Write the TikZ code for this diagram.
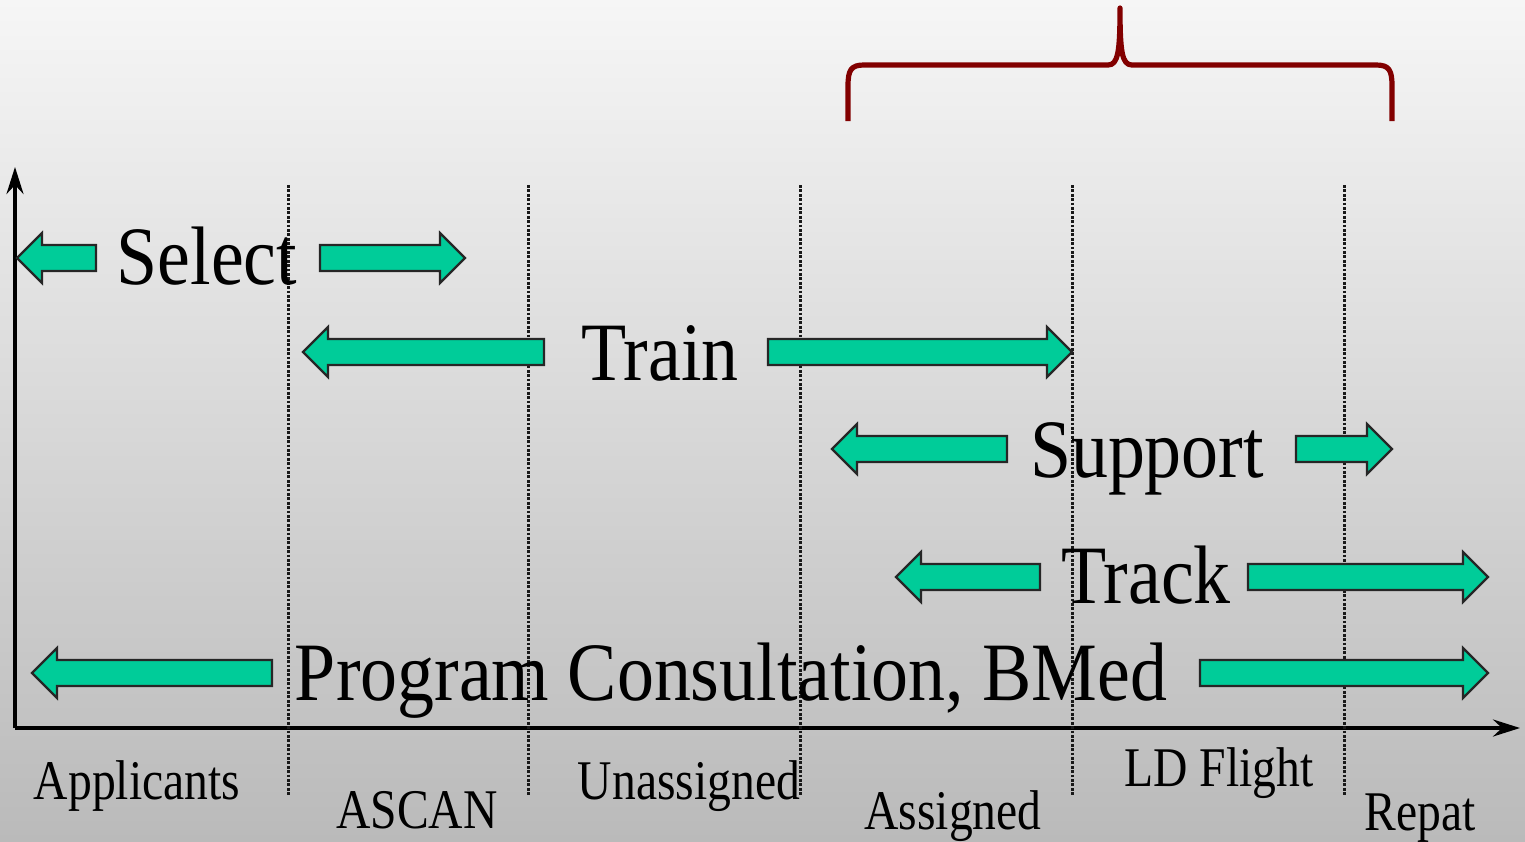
\documentclass[tikz,border=0pt]{standalone}
\usepackage{fontspec}
\usepackage{graphicx}
\setmainfont{Liberation Serif}
\usetikzlibrary{arrows.meta}
\definecolor{blockgreen}{RGB}{0,204,153}
\definecolor{bracered}{RGB}{130,0,0}
\definecolor{bgtop}{RGB}{246,246,246}
\definecolor{bgbot}{RGB}{186,186,186}
\newcommand\lblock[3]{% tip x, end x, center y
  \draw[blockarrow] (#1,#3) -- (#1+25,#3-25) -- (#1+25,#3-13) -- (#2,#3-13)
    -- (#2,#3+13) -- (#1+25,#3+13) -- (#1+25,#3+25) -- cycle;}
\newcommand\rblock[3]{% start x, tip x, center y
  \draw[blockarrow] (#1,#3-13) -- (#2-25,#3-13) -- (#2-25,#3-25) -- (#2,#3)
    -- (#2-25,#3+25) -- (#2-25,#3+13) -- (#1,#3+13) -- cycle;}
\newcommand\mainlbl[1]{\scalebox{0.89}[1]{#1}}
\newcommand\axlbl[1]{\scalebox{0.85}[1]{#1}}
\begin{document}
\begin{tikzpicture}[x=0.5pt,y=-0.5pt,
  blockarrow/.style={fill=blockgreen,draw=black!85,line width=1.1pt,line join=miter},
  phase/.style={line width=1.5pt,dash pattern=on 1.4pt off 0.8pt,black!90},
  axis/.style={line width=1.7pt,-{Stealth[length=13.5pt,width=8.5pt,inset=4.5pt]}},
  maintext/.style={anchor=base,inner sep=0pt,font=\fontsize{41.5}{48}\selectfont},
  labeltext/.style={anchor=base,inner sep=0pt,font=\fontsize{28}{32}\selectfont},
  bracestyle/.style={draw=bracered,line width=2.6pt,line cap=butt,line join=round}]
\shade[top color=bgtop,bottom color=bgbot] (0,0) rectangle (1525,841);
\useasboundingbox (0,0) rectangle (1525,841);

% axes
\coordinate (origin) at (15,728);
\coordinate (ytop) at (15,167);
\coordinate (xend) at (1520,728);
\draw[axis] (origin) -- (ytop);
\draw[axis] (origin) -- (xend);

% phase separators
\foreach \x/\n in {288/a,528/b,800/c,1072/d,1344/e}{
  \coordinate (s\n top) at (\x,185);
  \coordinate (s\n bot) at (\x,795);
  \draw[phase] (s\n top) -- (s\n bot);
}

% brace
\coordinate (brl) at (848,121);
\coordinate (brr) at (1392,121);
\coordinate (brtip) at (1120,8);
\draw[bracestyle] (brl) -- (848,86) .. controls (848,70) and (851,65) .. (864,65)
  -- (1108,65) .. controls (1118,65) and (1120,52) .. (brtip)
  .. controls (1120,52) and (1122,65) .. (1132,65)
  -- (1376,65) .. controls (1389,65) and (1392,70) .. (1392,86) -- (brr);

% block arrows
\lblock{17}{96}{258}
\rblock{320}{465}{258}
\lblock{303}{544}{352}
\rblock{768}{1072}{352}
\lblock{832}{1007}{449}
\rblock{1296}{1392}{449}
\lblock{896}{1040}{577}
\rblock{1248}{1488}{577}
\lblock{32}{272}{673}
\rblock{1200}{1488}{673}

% main labels
\node[maintext] (select) at (207,284) {\mainlbl{Select}};
\node[maintext] (train) at (660,380) {\mainlbl{Train}};
\node[maintext] (support) at (1147,477) {\mainlbl{Support}};
\node[maintext] (track) at (1146,603) {\mainlbl{Track}};
\node[maintext] (program) at (731,700) {\mainlbl{Program Consultation, BMed}};

% phase labels
\node[labeltext] (applicants) at (137,799) {\axlbl{Applicants}};
\node[labeltext] (ascan) at (417,828) {\axlbl{ASCAN}};
\node[labeltext] (unassigned) at (689,799) {\axlbl{Unassigned}};
\node[labeltext] (assigned) at (953,829) {\axlbl{Assigned}};
\node[labeltext] (ldflight) at (1219,786) {\axlbl{LD Flight}};
\node[labeltext] (repat) at (1420,830) {\axlbl{Repat}};
\end{tikzpicture}
\end{document}
